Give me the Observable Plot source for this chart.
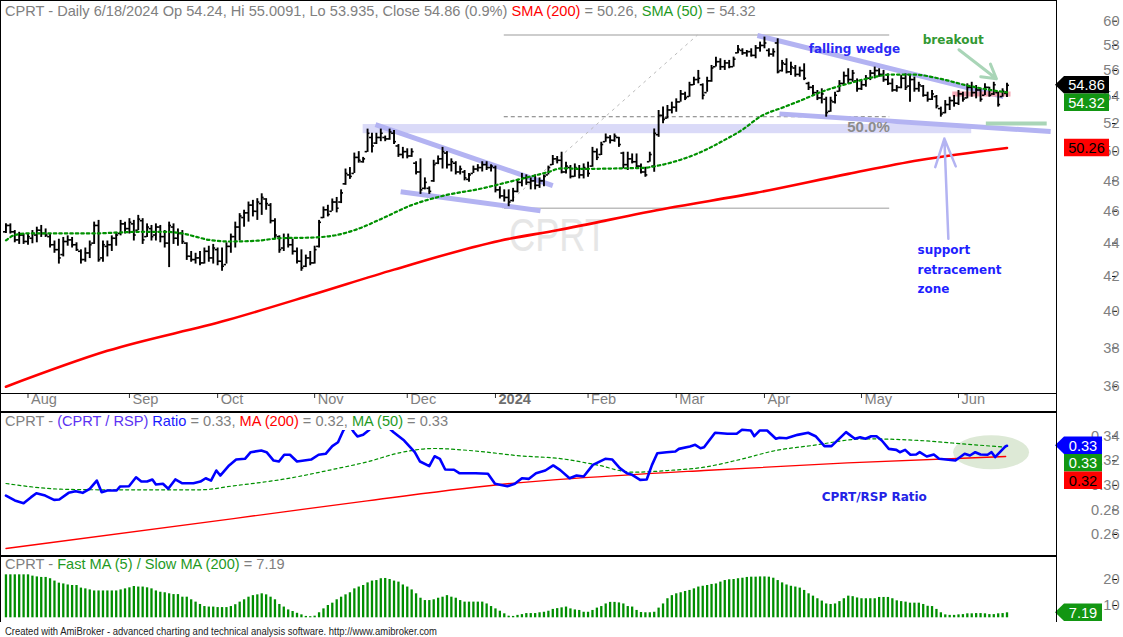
<!DOCTYPE html>
<html><head><meta charset="utf-8">
<script src="https://cdn.jsdelivr.net/npm/d3@7"></script>
<script src="https://cdn.jsdelivr.net/npm/@observablehq/plot@0.6"></script>
<style>
body{margin:0;background:#fff;}
#wrap{position:relative;width:1123px;height:637px;overflow:hidden;background:#fff;}
#wrap svg{position:absolute;left:0;}
.ln{position:absolute;background:#000;}
</style></head><body><div id="wrap"></div>
<script>
// ---------------- DATA ----------------
const monthIdx = [5,28,48,70,91,111,132,152,172,194,216];
const monthLabels = ["Aug","Sep","Oct","Nov","Dec","2024","Feb","Mar","Apr","May","Jun"];
const priceTicks = [36,38,40,42,44,46,48,50,52,54,56,58,60];
const ratioTicks = [0.26,0.28,0.30,0.32,0.34];
const histTicks = [10,20];

const highs = [45.20,45.20,44.78,44.67,44.56,44.56,44.78,44.99,45.10,44.88,
44.56,44.13,44.24,44.35,44.45,44.35,44.02,43.59,43.70,44.13,
45.31,45.42,44.13,44.13,44.45,44.67,45.42,45.31,45.53,45.42,
45.74,45.53,45.20,45.10,45.20,45.10,44.78,45.31,45.20,44.88,
44.78,44.02,43.49,43.38,43.49,43.70,43.81,43.92,43.70,43.70,
44.02,44.56,45.31,45.85,46.07,46.60,46.71,46.82,47.14,46.82,
46.50,45.53,44.45,44.56,44.56,44.24,43.70,43.59,43.27,43.49,
43.81,45.42,46.28,46.39,46.8,46.9,47.4,48.8,48.9,49.9,
50.0,49.6,51.6,51.3,51.3,51.6,51.1,51.6,51.5,50.5,
50.3,50.2,50.2,49.3,49.5,48.2,47.6,49.4,49.7,50.3,
50.0,49.5,49.3,49.0,48.7,48.5,49.0,49.1,49.3,49.3,
49.1,49.0,47.6,47.4,47.4,47.5,48.1,48.5,48.4,48.2,
48.4,48.2,48.4,49.0,49.73,49.66,49.96,49.27,49.04,49.15,
49.04,49.15,49.27,50.30,50.19,50.66,51.25,51.13,51.25,51.01,
49.96,49.96,49.84,49.84,49.15,48.92,49.96,51.61,52.96,53.21,
53.33,53.58,53.83,54.46,54.33,55.09,55.48,56.01,54.97,55.48,
56.40,57.06,56.93,56.80,56.80,57.06,57.99,57.73,57.59,57.73,
57.99,58.27,58.68,57.73,57.73,58.54,56.80,56.93,56.66,56.40,
56.27,56.53,55.09,54.84,54.46,54.59,53.95,53.95,54.33,55.22,
55.88,56.14,56.01,55.35,55.22,55.61,56.01,56.27,56.14,56.01,
55.74,55.35,54.84,55.61,55.74,55.61,55.48,55.09,54.84,54.33,
54.46,54.08,53.21,53.70,53.95,54.08,54.46,54.33,54.97,55.09,
54.84,54.59,54.97,54.71,55.09,54.33,54.59,55.0091];

const lows = [44.60,44.56,44.02,43.92,43.92,43.87,43.96,44.02,44.35,44.35,
43.70,43.38,42.73,43.16,43.81,43.70,43.49,42.73,42.84,43.06,
43.92,42.84,42.84,43.16,43.49,43.81,44.45,44.56,44.56,44.13,
44.78,43.92,44.35,44.13,44.13,44.02,43.70,42.52,43.92,43.81,
43.92,42.95,42.84,42.73,42.63,42.73,42.84,42.73,42.63,42.30,
42.73,43.38,43.70,44.13,44.99,45.31,45.64,45.42,45.74,46.07,
45.20,44.24,43.38,43.49,43.70,43.27,42.73,42.30,42.52,42.63,
42.73,43.70,45.53,45.64,46.0,45.9,46.5,47.7,48.1,48.5,
49.2,49.2,49.95,49.9,50.5,50.7,50.7,50.8,50.5,49.6,
49.5,49.5,49.6,48.4,47.1,47.4,47.1,47.9,49.1,48.8,
48.8,48.6,48.4,48.4,48.0,47.9,48.5,48.6,48.6,48.7,
48.6,47.2,46.8,46.6,46.3,46.6,47.2,47.6,47.7,47.4,
47.4,47.5,47.6,48.4,49.04,49.15,48.47,48.47,48.13,48.24,
48.13,48.13,48.24,48.92,49.38,49.73,50.66,50.54,50.66,50.30,
48.81,48.70,49.15,48.81,48.47,48.24,49.27,48.58,51.01,51.98,
52.34,52.71,52.83,53.58,53.70,53.95,54.84,54.97,53.75,54.33,
55.09,56.27,56.01,56.01,56.14,56.27,57.33,57.20,57.06,57.06,
56.93,57.46,57.73,57.06,57.06,55.74,55.88,55.74,55.61,55.48,
55.48,55.22,54.46,54.08,53.70,53.45,52.47,52.83,53.45,54.33,
54.84,54.97,55.09,54.33,54.46,54.71,55.22,55.35,55.48,55.09,
54.84,54.33,54.33,54.59,54.46,53.58,54.33,54.33,53.95,53.58,
53.70,53.08,52.47,52.71,52.96,53.21,53.33,53.58,53.83,53.95,
53.83,53.58,54.08,53.95,54.08,53.21,53.95,53.935];

const opens = [44.7,45.1,44.7,44.2,44.5,44.1,44.3,44.5,44.8,44.6,
44.4,43.9,43.6,43.3,44.1,44.2,43.9,43.5,43.0,43.4,
44.0,45.1,43.1,43.8,43.9,44.3,44.6,45.2,44.9,45.2,
44.8,45.4,44.4,44.9,44.5,45.0,44.4,44.0,45.0,44.3,
44.6,44.0,43.2,43.0,43.1,42.8,43.5,43.1,43.6,42.9,
42.7,43.8,44.4,45.0,45.6,45.9,46.4,46.0,46.5,46.8,
46.4,45.4,44.4,43.7,44.3,43.9,43.5,42.9,42.6,43.1,
42.8,43.8,45.6,46.1,46.0,46.6,46.6,47.8,48.4,48.5,
49.6,49.3,50.0,51.0,50.6,51.0,51.0,50.9,51.3,50.4,
49.8,50.0,49.7,49.2,48.6,47.5,47.5,48.0,49.2,49.5,
49.9,49.1,49.2,48.6,48.6,48.1,48.5,48.8,48.9,49.1,
48.9,48.9,47.4,47.0,46.9,46.7,47.3,47.9,48.2,47.9,
48.0,47.7,48.0,48.4,49.1,49.5,49.4,48.6,48.9,48.3,
48.8,48.4,48.8,49.0,50.0,49.8,50.7,51.0,50.8,51.0,
49.9,49.1,49.5,49.3,49.0,48.6,49.3,49.0,51.2,52.6,
52.4,53.0,53.2,53.6,54.2,54.0,54.9,55.3,54.9,54.3,
55.2,56.3,56.7,56.3,56.6,56.3,57.4,57.6,57.4,57.5,
57.2,57.8,58.0,57.6,57.3,58.2,56.0,56.5,55.9,56.2,
55.7,56.0,55.0,54.7,54.3,53.9,53.8,52.9,53.6,54.4,
55.0,55.6,55.3,55.2,54.6,54.9,55.4,55.8,56.0,55.7,
55.3,55.0,54.5,54.7,55.4,54.8,55.3,54.6,54.8,54.1,
53.8,54.0,53.1,52.8,53.4,53.7,53.5,54.2,53.9,54.7,
54.3,54.5,54.1,54.7,54.2,54.3,54.0,54.24];

const closes = [45.1,44.7,44.2,44.5,44.1,44.4,44.6,44.8,44.6,44.5,
43.9,43.6,43.1,44.1,44.2,43.9,43.6,43.0,43.4,43.9,
45.1,43.0,43.9,43.9,44.3,44.5,45.2,44.9,45.3,44.5,
45.5,44.2,45.0,44.4,45.0,44.4,44.0,45.1,44.3,44.6,
44.1,43.2,43.0,43.1,42.8,43.5,43.1,43.7,42.9,42.6,
43.8,44.4,45.0,45.7,45.9,46.4,46.0,46.6,46.9,46.5,
45.4,44.5,43.6,44.3,43.9,43.5,42.9,42.5,43.1,42.8,
43.6,45.3,46.1,45.8,46.6,46.2,47.2,48.5,48.3,49.6,
49.4,49.5,51.3,50.4,51.0,51.3,50.9,51.4,50.7,49.8,
50.0,49.7,50.0,48.6,47.4,47.9,47.3,49.1,49.5,50.0,
49.1,49.3,48.6,48.8,48.2,48.4,48.8,48.9,49.1,48.9,
49.0,47.4,47.0,46.9,46.6,47.3,47.9,48.2,47.9,48.0,
47.7,48.0,48.3,48.9,49.5,49.4,48.6,49.0,48.3,48.9,
48.4,48.9,48.5,50.0,49.6,50.5,51.0,50.8,51.1,50.5,
49.1,49.5,49.3,49.0,48.6,48.4,49.8,51.3,52.6,52.3,
53.0,53.2,53.6,54.2,53.9,54.9,55.3,55.4,54.1,55.2,
56.2,56.7,56.3,56.6,56.3,56.9,57.7,57.4,57.5,57.2,
57.8,58.0,58.2,57.3,57.5,55.9,56.6,55.9,56.3,55.7,
56.0,55.4,54.7,54.3,53.9,54.2,52.8,53.7,54.1,55.0,
55.6,55.3,55.8,54.6,54.9,55.4,55.8,56.0,55.7,55.3,
55.0,54.5,54.7,55.4,54.7,55.3,54.6,54.9,54.1,53.8,
54.2,53.3,52.7,53.4,53.7,53.5,54.2,53.8,54.7,54.3,
54.5,53.8,54.7,54.1,54.9,53.4,54.4,54.86];

const sma200Idx = [0,23,50,70,88,112,125,150,170,191,207,227];
const sma200Val = [36.0,37.85,39.5,40.98,42.4,44.15,44.8,46.2,47.2,48.47,49.4,50.26];

const sma50Idx = [0,2,5,20,25,30,36,40,43,46,51,57,62,70,75,80,85,92,99,108,115,123,126,131,140,144.5,148,153.6,157.5,162.7,167.2,171,176.3,180.2,184.7,190.8,196.7,200.6,205.8,212,218,224,227];
const sma50Val = [44.17,44.5,44.6,44.6,44.65,44.7,44.7,44.6,44.4,44.2,44.1,44.15,44.3,44.35,44.5,44.9,45.5,46.4,47.0,47.5,48.0,48.6,48.85,48.81,48.85,48.88,49.04,49.5,49.96,50.78,51.6,52.5,53.2,53.7,54.33,54.97,55.48,55.69,55.69,55.35,54.84,54.46,54.32];

const ratioIdx = [0,2.0,4.0,5.7,6.9,8.9,10.9,12.1,14.2,15.8,17.4,19.0,20.6,21.7,23.0,25.1,25.9,27.9,29.5,30.7,32.0,33.2,34.0,35.6,36.8,38.4,40.0,42.5,44.1,45.3,46.5,47.7,48.6,50.6,52.2,54.2,55.5,57.9,59.1,60.7,61.9,63.1,64.4,66.0,69.2,70.9,72.5,74.0,75.3,76.5,77.7,78.9,79.7,81.0,82.2,83.8,86.1,87.9,90.3,92.7,93.9,96.0,97.2,98.4,99.6,101.6,102.8,106.5,109.3,110.9,113.7,115.4,117.0,118.6,120.2,122.3,124.1,125.7,127.8,129.4,131.0,133.1,135.9,137.5,139.2,140.8,142.0,143.8,145.3,146.5,147.7,149.8,151.8,152.6,155.1,156.3,157.5,158.3,160.8,163.6,165.7,166.9,168.9,169.7,170.9,172.6,174.6,175.4,177.0,179.5,181.9,183.6,185.6,187.2,190.5,192.5,193.7,194.9,196.2,197.4,198.6,200.2,201.9,202.7,203.9,205.1,206.4,207.2,208.8,210.4,211.6,213.7,215.3,217.4,218.6,219.8,221.0,222.6,223.5,224.3,226.7,227];
const ratioVal = [0.2917,0.2877,0.2855,0.2904,0.2936,0.2917,0.2882,0.2885,0.2939,0.2952,0.2939,0.2972,0.3039,0.2944,0.2958,0.2958,0.2991,0.2993,0.3066,0.3031,0.3031,0.3048,0.3007,0.3013,0.2972,0.3048,0.3017,0.3017,0.3031,0.3058,0.3039,0.3121,0.3080,0.3162,0.3210,0.3216,0.3270,0.3284,0.3270,0.3202,0.3194,0.3249,0.3249,0.3194,0.3210,0.3249,0.3257,0.3319,0.3351,0.3446,0.3500,0.3432,0.3398,0.3411,0.3446,0.3500,0.3490,0.3432,0.3365,0.3270,0.3194,0.3156,0.3237,0.3216,0.3129,0.3127,0.3099,0.3099,0.3094,0.3013,0.2993,0.3013,0.3058,0.3053,0.3099,0.3121,0.3162,0.3124,0.3058,0.3080,0.3072,0.3167,0.3216,0.3210,0.3140,0.3099,0.3086,0.3045,0.3048,0.3167,0.3262,0.3270,0.3275,0.3297,0.3316,0.3330,0.3302,0.3310,0.3428,0.3420,0.3420,0.3452,0.3446,0.3400,0.3446,0.3446,0.3379,0.3387,0.3384,0.3411,0.3428,0.3400,0.3319,0.3319,0.3433,0.3379,0.3392,0.3379,0.3400,0.3400,0.3365,0.3297,0.3289,0.3270,0.3289,0.3249,0.3251,0.3270,0.3235,0.3251,0.3216,0.3208,0.3202,0.3257,0.3243,0.3270,0.3251,0.3249,0.3270,0.3230,0.3319,0.3322];

const rMa200Idx = [0,51.6,81.9,116.7,125.7,158.3,190.8,226.7];
const rMa200Val = [0.2486,0.2730,0.2874,0.3023,0.3048,0.3121,0.3183,0.3235];
const rMa50Idx = [0,12.4,21.4,44.1,51.6,62.9,74.3,82,89.5,97,106,116.7,125.7,133.9,142,150.2,158.3,166.4,174.6,182.7,194.9,207.2,216.9,226.7];
const rMa50Val = [0.3015,0.2969,0.2964,0.2964,0.2996,0.3050,0.3131,0.3192,0.3267,0.3300,0.3281,0.3240,0.3218,0.3167,0.3107,0.3121,0.3148,0.3210,0.3284,0.3324,0.3379,0.3365,0.3338,0.3310];

const hist = [21.8,21.8,21.8,21.8,21.8,21.8,21.3,21.0,20.8,20.8,
20.3,19.4,18.6,18.3,17.9,17.7,17.7,16.7,16.4,16.0,
15.6,15.6,15.6,15.6,15.6,15.6,16.0,16.4,16.8,17.3,
17.1,17.1,16.8,16.4,15.6,15.1,14.9,14.5,14.2,14.2,
13.2,13.2,12.2,11.3,10.4,9.6,9.4,9.4,9.2,9.2,
9.2,9.6,10.3,11.3,12.2,13.2,13.8,14.1,14.5,14.1,
13.2,12.2,10.4,9.4,8.3,7.7,7.0,6.4,5.8,5.7,
5.9,7.2,8.7,10.0,10.9,12.2,13.2,14.1,14.9,16.4,
17.1,17.7,18.7,19.4,19.6,20.3,20.4,20.0,19.4,19.0,
17.9,17.1,16.0,14.5,12.8,11.9,11.9,12.2,12.8,13.2,
13.8,13.2,12.8,11.9,11.3,11.3,11.3,11.3,11.3,10.6,
9.6,8.7,7.8,6.8,5.9,5.8,6.2,6.5,6.9,6.9,
6.9,7.2,7.4,7.8,8.5,8.8,9.1,9.4,8.7,8.3,
8.1,7.4,7.4,8.1,9.0,9.6,10.6,11.2,11.2,11.0,
10.6,9.6,9.4,8.1,7.3,7.2,7.2,7.4,9.0,10.6,
12.6,13.8,14.5,14.9,15.4,15.8,16.4,17.1,17.4,17.7,
18.1,18.3,19.0,19.6,19.9,20.0,20.3,20.5,20.8,20.9,
20.9,21.0,21.0,20.9,20.5,19.6,18.7,17.9,17.4,17.1,
16.7,15.8,14.5,13.6,12.6,11.7,10.6,10.4,10.6,11.5,
12.6,13.6,13.4,12.9,12.6,12.6,12.6,12.6,13.1,13.1,
13.1,12.6,11.8,11.5,11.3,10.9,10.9,10.9,10.4,9.7,
9.6,8.5,7.2,6.4,6.2,6.2,6.4,6.5,6.8,6.8,
6.9,6.9,6.8,6.5,6.5,6.8,6.9,7.19];

// annotation geometry (in data units: session index, price)
const fibLevels = [58.85, 46.2];
const fibMid = 52.5;
const fibSpan = [113, 200.4];
const fibDiag = [[112.5,46.2,156.8,58.85]];
const supportBand = [[81,219,51.27,51.93]];
const wedgeSegs = [[83.8,51.93,124,47.68],[89.5,47.28,121.2,46.04],[170.4,58.81,226.2,54.0],[175.4,52.71,236.9,51.42]];
const pinkSeg = [[214.6,54.2,227.8,54.2]];
const greenSeg = [[222.2,52.0,236,52.0]];
const breakoutArrow = [[216.1,57.65,224.6,55.36]];
const supportArrow = [[213.7,44.27,212.8,50.92]];
const supportText = [["support",206.7,43.54],["retracement",206.7,42.38],["zone",206.7,41.27]];

// ---------------- CHART ----------------
const FONT = '"Liberation Sans", Arial, Helvetica, sans-serif';
const BOLDF = '"DejaVu Sans", Verdana, sans-serif';
const n = Math.min(highs.length, lows.length, opens.length, closes.length);
const idx = d3.range(n);
const XD = [-1.01, 238.45];
const common = {width: 1123, marginLeft: 1, marginRight: 66,
  style: {fontFamily: FONT, fontSize: "14px", background: "transparent", overflow: "visible"}};
const seg = (data, o) => Plot.link(data, {x1: d=>d[0], y1: d=>d[1], x2: d=>d[2], y2: d=>d[3], ...o});
const wrap = document.getElementById("wrap");

const pTop = Plot.plot({
  ...common, height: 412, marginTop: 0, marginBottom: 19,
  x: {domain: XD}, y: {type: "log", domain: [35.66, 61.76]},
  marks: [
    Plot.rect(supportBand, {x1: d=>d[0], x2: d=>d[1], y1: d=>d[2], y2: d=>d[3], fill: "#dadaf8"}),
    Plot.ruleY(fibLevels, {y: d=>d, x1: ()=>fibSpan[0], x2: ()=>fibSpan[1], stroke: "#bdbdbd", strokeWidth: 1.5}),
    Plot.ruleY([fibMid], {y: d=>d, x1: ()=>fibSpan[0], x2: ()=>fibSpan[1], stroke: "#7a7a7a", strokeWidth: 1, strokeDasharray: "4,3"}),
    seg(fibDiag, {stroke: "#bbbbbb", strokeWidth: 1, strokeDasharray: "3,4"}),
    seg(wedgeSegs, {stroke: "#b3b3f2", strokeWidth: 5}),
    seg(pinkSeg, {stroke: "#f3a9b6", strokeWidth: 5}),
    seg(greenSeg, {stroke: "#a9d5b7", strokeWidth: 4}),
    Plot.line(sma200Idx, {x: d=>d, y: (d,i)=>sma200Val[i], stroke: "#ff0000", strokeWidth: 2.6, curve: "monotone-x"}),
    Plot.ruleX(idx, {x: i=>i, y1: i=>lows[i], y2: i=>highs[i], stroke: "#000", strokeWidth: 1.9}),
    Plot.ruleY(idx, {y: i=>opens[i], x1: i=>i-0.55, x2: i=>i, stroke: "#000", strokeWidth: 1.6}),
    Plot.ruleY(idx, {y: i=>closes[i], x1: i=>i, x2: i=>i+0.55, stroke: "#000", strokeWidth: 1.6}),
    Plot.line(sma50Idx, {x: d=>d, y: (d,i)=>sma50Val[i], stroke: "#009100", strokeWidth: 2.2, strokeDasharray: "2.5,3", curve: "monotone-x"}),
    Plot.arrow(breakoutArrow, {x1: d=>d[0], y1: d=>d[1], x2: d=>d[2], y2: d=>d[3], stroke: "#a9d5b7", strokeWidth: 3, headLength: 14}),
    Plot.arrow(supportArrow, {x1: d=>d[0], y1: d=>d[1], x2: d=>d[2], y2: d=>d[3], stroke: "#b3b3f2", strokeWidth: 2.5, headLength: 18, headAngle: 40}),
    Plot.text(["falling wedge"], {x: ()=>192.4, y: ()=>57.7, text: d=>d, fill: "#2a2af5", fontWeight: "bold", fontSize: 12, fontFamily: BOLDF}),
    Plot.text(["breakout"], {x: ()=>214.8, y: ()=>58.4, text: d=>d, fill: "#339933", fontWeight: "bold", fontSize: 12, fontFamily: BOLDF}),
    Plot.text(supportText, {x: d=>d[1], y: d=>d[2], text: d=>d[0], textAnchor: "start", fill: "#1f1fff", fontWeight: "bold", fontSize: 12, fontFamily: BOLDF}),
    Plot.text(["50.0%"], {x: ()=>195.6, y: ()=>51.71, text: d=>d, fill: "#8c8c8c", fontWeight: "bold", fontSize: 15, fontFamily: FONT}),
    Plot.axisY({anchor: "right", ticks: priceTicks, tickSize: 5, tickPadding: 3, tickFormat: d=>String(d), textAnchor: "end", dx: 54, fill: "#808080", stroke: "#000", label: null, fontSize: 14.6}),
    Plot.axisX({anchor: "bottom", ticks: monthIdx, tickSize: 5, tickFormat: () => "", stroke: "#333", label: null}),
    Plot.text(monthIdx.filter((d,i)=>monthLabels[i]!=="2024"), {x: d=>d, frameAnchor: "bottom", dy: 10, dx: 3, textAnchor: "start", text: d=>monthLabels[monthIdx.indexOf(d)], fill: "#808080", fontSize: 14.6}),
    Plot.text(monthIdx.filter((d,i)=>monthLabels[i]==="2024"), {x: d=>d, frameAnchor: "bottom", dy: 10, dx: 3, textAnchor: "start", text: d=>monthLabels[monthIdx.indexOf(d)], fill: "#6e6e6e", fontWeight: "bold", fontSize: 14.6})
  ]
});
pTop.style.top = "0px";
wrap.appendChild(pTop);

const pMid = Plot.plot({
  ...common, height: 144, marginTop: 0, marginBottom: 0,
  x: {domain: XD, axis: null}, y: {domain: [0.2421, 0.3593]},
  marks: [
    Plot.line(rMa200Idx, {x: d=>d, y: (d,i)=>rMa200Val[i], stroke: "#ff0000", strokeWidth: 1.3, curve: "monotone-x"}),
    Plot.line(rMa50Idx, {x: d=>d, y: (d,i)=>rMa50Val[i], stroke: "#009100", strokeWidth: 1.2, strokeDasharray: "3,3", curve: "monotone-x"}),
    Plot.line(ratioIdx, {x: d=>d, y: (d,i)=>ratioVal[i], stroke: "#0000ff", strokeWidth: 2.6}),
    Plot.text(["CPRT/RSP Ratio"], {x: ()=>196.9, y: ()=>0.2901, text: d=>d, fill: "#2323e6", fontWeight: "bold", fontSize: 12, fontFamily: BOLDF}),
    Plot.axisY({anchor: "right", ticks: ratioTicks, tickSize: 5, tickPadding: 3, tickFormat: d3.format(".2f"), textAnchor: "end", dx: 54, fill: "#808080", stroke: "#000", label: null, fontSize: 14.6})
  ]
});
pMid.style.top = "412px";
wrap.appendChild(pMid);

const HBASE = 5.27;
const pBot = Plot.plot({
  ...common, height: 66, marginTop: 0, marginBottom: 0,
  x: {domain: XD, axis: null}, y: {domain: [3.46, 28.85]},
  marks: [
    Plot.ruleX(d3.range(hist.length), {x: i=>i, y1: ()=>HBASE, y2: i=>hist[i], stroke: "#008e00", strokeWidth: 2.3}),
    Plot.axisY({anchor: "right", ticks: histTicks, tickSize: 5, tickPadding: 3, tickFormat: d=>String(d), textAnchor: "end", dx: 54, fill: "#808080", stroke: "#000", label: null, fontSize: 14.6})
  ]
});
pBot.style.top = "556px";
wrap.appendChild(pBot);

// --------- decorations: watermark, ellipse, titles, value tags ---------
const ts = pTop.scale("x"), tys = pTop.scale("y");
const firstG = (svg) => svg.querySelector(":scope > g");
{
  const t = document.createElementNS("http://www.w3.org/2000/svg", "text");
  pTop.insertBefore(t, firstG(pTop));
  d3.select(t).attr("x", ts.apply(125.3)).attr("y", tys.apply(44.46)).attr("dy", "0.35em")
    .attr("text-anchor", "middle").attr("font-size", 46).attr("font-family", FONT)
    .attr("fill", "#e6e6e6").attr("textLength", 98).attr("lengthAdjust", "spacingAndGlyphs").text("CPRT");
}
const mys = pMid.scale("y");
{
  const e = document.createElementNS("http://www.w3.org/2000/svg", "ellipse");
  pMid.insertBefore(e, firstG(pMid));
  d3.select(e).attr("cx", ts.apply(223.5)).attr("cy", mys.apply(0.3265)).attr("rx", 38).attr("ry", 17).attr("fill", "#dde9d6");
}

function title(svg, y, parts, bg) {
  const s = d3.select(svg);
  const r = bg ? s.append("rect").attr("x", 2).attr("y", 1).attr("height", 17).attr("fill", "#fff") : null;
  const t = s.append("text").attr("x", 5).attr("y", y).attr("font-size", 14.6).attr("font-family", FONT).attr("text-anchor", "start");
  for (const [str, c] of parts) t.append("tspan").attr("fill", c).text(str);
  if (r) r.attr("width", t.node().getComputedTextLength() + 6);
}
const G = "#808080", GR = "#1f9a1f";
title(pTop, 16, [["CPRT - Daily 6/18/2024 Op 54.24, Hi 55.0091, Lo 53.935, Close 54.86 (0.9%) ", G], ["SMA (200)", "#ff0000"], [" = 50.26, ", G], ["SMA (50)", GR], [" = 54.32", G]]);
title(pMid, 14, [["CPRT - ", G], ["(CPRT / RSP)", "#5b32f2"], [" Ratio", "#1a1aff"], [" = 0.33, ", G], ["MA (200)", "#ff0000"], [" = 0.32, ", G], ["MA (50)", GR], [" = 0.33", G]], true);
title(pBot, 13, [["CPRT - ", G], ["Fast MA (5) / Slow MA (200)", GR], [" = 7.19", G]]);

function tag(svg, yc, label, fill, tfill, arrow, x1) {
  const s = d3.select(svg), h = 17.5, xa = 1064;
  const p = arrow
    ? `M1055,${yc} L${xa},${yc-h/2} L${x1},${yc-h/2} L${x1},${yc+h/2} L${xa},${yc+h/2} Z`
    : `M${xa},${yc-h/2} L${x1},${yc-h/2} L${x1},${yc+h/2} L${xa},${yc+h/2} Z`;
  s.append("path").attr("d", p).attr("fill", fill);
  s.append("text").attr("x", (xa + x1) / 2).attr("y", yc).attr("dy", "0.36em").attr("text-anchor", "middle")
    .attr("font-size", 14.6).attr("font-family", FONT).attr("fill", tfill).text(label);
}
const lastClose = closes[n-1], lastSma50 = sma50Val[sma50Val.length-1], lastSma200 = sma200Val[sma200Val.length-1];
const yc1 = tys.apply(lastClose);
tag(pTop, yc1, lastClose.toFixed(2), "#000", "#fff", true, 1109);
tag(pTop, yc1 + 17.5, lastSma50.toFixed(2), "#129612", "#fff", false, 1109);
tag(pTop, tys.apply(lastSma200), lastSma200.toFixed(2), "#ff0000", "#000", false, 1109);
const yc2 = mys.apply(ratioVal[ratioVal.length-1]);
tag(pMid, yc2, "0.33", "#0000ff", "#fff", true, 1102);
tag(pMid, yc2 + 17.5, "0.33", "#129612", "#fff", false, 1102);
tag(pMid, yc2 + 35, "0.32", "#ff0000", "#000", false, 1102);
const bys = pBot.scale("y");
tag(pBot, bys.apply(hist[hist.length-1]), hist[hist.length-1].toFixed(2), "#129612", "#fff", true, 1102);

// frame lines
[[0,0,1057,1],[0,0,1,622],[1056,0,1,622],[0,393,1057,1],[0,411,1057,2],[0,555,1057,2]].forEach(([l,t,w,h]) => {
  const d = document.createElement("div"); d.className = "ln";
  Object.assign(d.style, {left: l+"px", top: t+"px", width: w+"px", height: h+"px"});
  wrap.appendChild(d);
});

// footer
const foot = d3.select(wrap).append("svg").attr("width", 1123).attr("height", 15).style("top", "622px");
foot.append("text").attr("x", 5).attr("y", 12.5).attr("font-size", 10).attr("font-family", FONT).attr("fill", "#222")
  .attr("textLength", 432).attr("lengthAdjust", "spacingAndGlyphs")
  .text("Created with AmiBroker - advanced charting and technical analysis software. http://www.amibroker.com");
</script></body></html>
